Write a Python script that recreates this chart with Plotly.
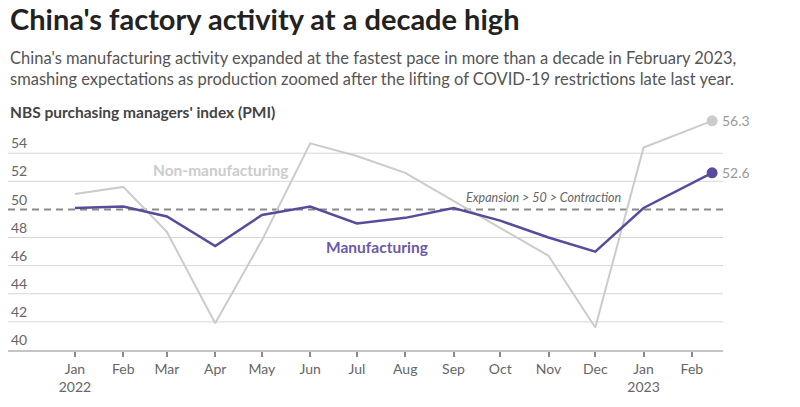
import plotly.graph_objects as go

dates = ["2022-01-01", "2022-02-01", "2022-03-01", "2022-04-01", "2022-05-01", "2022-06-01",
         "2022-07-01", "2022-08-01", "2022-09-01", "2022-10-01", "2022-11-01", "2022-12-01",
         "2023-01-01", "2023-02-14"]
manufacturing = [50.1, 50.2, 49.5, 47.4, 49.6, 50.2, 49.0, 49.4, 50.1, 49.2, 48.0, 47.0, 50.1, 52.6]
non_manufacturing = [51.1, 51.6, 48.4, 41.9, 47.8, 54.7, 53.8, 52.6, 50.6, 48.7, 46.7, 41.6, 54.4, 56.3]

tick_dates = ["2022-01-01", "2022-02-01", "2022-03-01", "2022-04-01", "2022-05-01", "2022-06-01",
              "2022-07-01", "2022-08-01", "2022-09-01", "2022-10-01", "2022-11-01", "2022-12-01",
              "2023-01-01", "2023-02-01"]
tick_labels = ["Jan<br>2022", "Feb", "Mar", "Apr", "May", "Jun", "Jul", "Aug", "Sep", "Oct",
               "Nov", "Dec", "Jan<br>2023", "Feb"]
y_ticks = [40, 42, 44, 46, 48, 50, 52, 54]
threshold = 50

PURPLE = "#5a4a9c"
LGRAY = "#cbcbcb"
FONT = "Lato"

fig = go.Figure()
fig.add_trace(go.Scatter(x=dates, y=non_manufacturing, mode="lines",
                         line=dict(color=LGRAY, width=2), hoverinfo="skip"))
fig.add_trace(go.Scatter(x=dates[-1:], y=non_manufacturing[-1:], mode="markers",
                         marker=dict(color=LGRAY, size=11), hoverinfo="skip"))
fig.add_trace(go.Scatter(x=dates, y=manufacturing, mode="lines",
                         line=dict(color=PURPLE, width=2.5), hoverinfo="skip"))
fig.add_trace(go.Scatter(x=dates[-1:], y=manufacturing[-1:], mode="markers",
                         marker=dict(color=PURPLE, size=11), hoverinfo="skip"))

shapes = []
for v in y_ticks:
    if v == threshold or v == y_ticks[0]:
        continue
    shapes.append(dict(type="line", xref="paper", x0=0, x1=1, yref="y", y0=v, y1=v,
                       line=dict(color="#d6d6d6", width=1), layer="below"))
shapes.append(dict(type="line", xref="paper", x0=0, x1=1, yref="y", y0=threshold, y1=threshold,
                   line=dict(color="#8a8a8a", width=2, dash="7px,5px"), layer="below"))

annotations = [
    dict(text="<b>China's factory activity at a decade high</b>", xref="paper", yref="paper",
         x=0, y=1.385, xanchor="left", yanchor="middle", showarrow=False,
         font=dict(family=FONT, size=29, color="#222222")),
    dict(text="China's manufacturing activity expanded at the fastest pace in more than a decade in February 2023,<br>"
              "smashing expectations as production zoomed after the lifting of COVID-19 restrictions late last year.",
         xref="paper", yref="paper", x=0, y=1.176, xanchor="left", yanchor="middle", showarrow=False,
         align="left", font=dict(family=FONT, size=16.5, color="#555555")),
    dict(text="<b>NBS purchasing managers' index (PMI)</b>", xref="paper", yref="paper",
         x=0, y=0.996, xanchor="left", yanchor="middle", showarrow=False,
         font=dict(family=FONT, size=15.5, color="#444444")),
    dict(text="<b>Non-manufacturing</b>", x="2022-04-05", y=52.8, xanchor="center", yanchor="middle",
         showarrow=False, font=dict(family=FONT, size=15.5, color="#cccccc")),
    dict(text="<b>Manufacturing</b>", x="2022-07-14", y=47.3, xanchor="center", yanchor="middle",
         showarrow=False, font=dict(family=FONT, size=15.5, color="#6a5aa8")),
    dict(text="<i>Expansion > 50 > Contraction</i>", x="2022-10-29", y=50.85, xanchor="center",
         yanchor="middle", showarrow=False, font=dict(family=FONT, size=12.5, color="#666666")),
    dict(text=f"{non_manufacturing[-1]}", x=dates[-1], y=non_manufacturing[-1], xanchor="left",
         yanchor="middle", xshift=8, showarrow=False, font=dict(family=FONT, size=14, color="#999999")),
    dict(text=f"{manufacturing[-1]}", x=dates[-1], y=manufacturing[-1], xanchor="left",
         yanchor="middle", xshift=8, showarrow=False, font=dict(family=FONT, size=14, color="#999999")),
]

fig.update_layout(
    width=800, height=407,
    margin=dict(l=8, r=77, t=111, b=57, pad=0),
    paper_bgcolor="white", plot_bgcolor="white",
    showlegend=False,
    shapes=shapes, annotations=annotations,
    xaxis=dict(type="date", range=["2021-11-19", "2023-02-21"], tickvals=tick_dates,
               ticktext=tick_labels, showgrid=False, zeroline=False,
               showline=True, linecolor="#c4c4c4", linewidth=1.5,
               ticks="outside", ticklen=5, tickcolor="#8a8a8a", tickwidth=1.5,
               tickfont=dict(family=FONT, size=14, color="#666666")),
    yaxis=dict(range=[40, 57], tickvals=y_ticks, showgrid=False, zeroline=False,
               ticklabelposition="inside top", ticks="", showline=False,
               tickfont=dict(family=FONT, size=14, color="#666666")),
)

fig.write_html("out.html")
